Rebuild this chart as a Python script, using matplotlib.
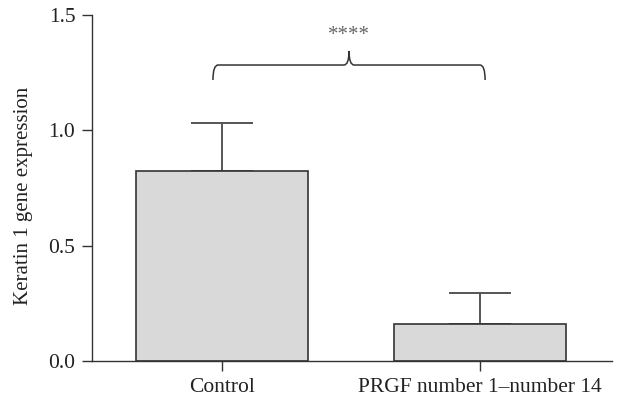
import matplotlib.pyplot as plt
from matplotlib.path import Path
from matplotlib.patches import PathPatch

plt.rcParams['font.family'] = ['Liberation Serif', 'DejaVu Serif']

groups = ["Control", "PRGF number 1\u2013number 14"]
means = [0.824, 0.16]
errors = [0.208, 0.136]
signif = "****"

fig = plt.figure(figsize=(6.19, 4.04), dpi=100)
ax = fig.add_axes([0.1486, 0.1064, 0.8401, 0.8566])

pos = list(range(len(groups)))
ax.bar(pos, means, width=0.667, color="#d9d9da", edgecolor="#333333", linewidth=1.2, zorder=2)
ax.errorbar(pos, means, yerr=[[0] * len(means), errors], fmt="none",
            ecolor="#555555", elinewidth=1.4, capsize=22, capthick=1.4, zorder=1)

ax.set_xlim(-0.504, 1.512)
ax.set_ylim(0, 1.5)
ax.set_yticks([0, 0.5, 1.0, 1.5])
ax.set_yticklabels(["0.0", "0.5", "1.0", "1.5"])
ax.set_xticks(pos)
ax.set_xticklabels(groups)
ax.tick_params(direction="out", length=7, width=1, colors="#333333", labelsize=15.5, pad=5)
ax.tick_params(labelcolor="#222222")
ax.set_ylabel("Keratin 1 gene expression", fontsize=15, color="#222222")
ax.yaxis.set_label_coords(-0.113, 0.477)
for s in ["top", "right"]:
    ax.spines[s].set_visible(False)
for s in ["left", "bottom"]:
    ax.spines[s].set_color("#333333")
    ax.spines[s].set_linewidth(1.0)

# curly bracket over both bars
x0, x1 = -0.035, 1.02
xm = (x0 + x1) / 2
yb, yh, yp = 1.218, 1.283, 1.344
dx = 0.02
verts = [(x0, yb), (x0, yh), (x0 + dx, yh),
         (xm - dx, yh), (xm, yh), (xm, yp),
         (xm, yh), (xm + dx, yh),
         (x1 - dx, yh), (x1, yh), (x1, yb)]
codes = [Path.MOVETO, Path.CURVE3, Path.CURVE3,
         Path.LINETO, Path.CURVE3, Path.CURVE3,
         Path.CURVE3, Path.CURVE3,
         Path.LINETO, Path.CURVE3, Path.CURVE3]
ax.add_patch(PathPatch(Path(verts, codes), fill=False, edgecolor="#333333", linewidth=1.1, clip_on=False))
ax.text(xm, 1.41, signif, ha="center", va="center", fontsize=15, color="#666666")

fig.savefig("out.png", dpi=100)
